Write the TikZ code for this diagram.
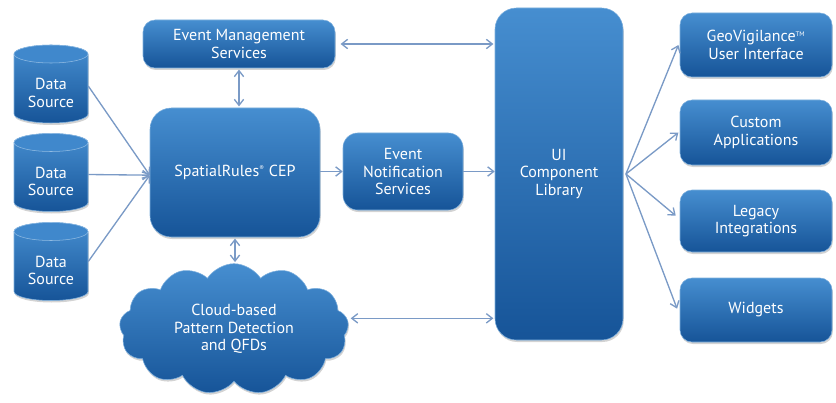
\documentclass[tikz,border=0pt]{standalone}
\usepackage{fontspec}
\setmainfont{PT Sans}
\usetikzlibrary{shapes.geometric,shapes.symbols,shadows,arrows.meta}
\definecolor{btop}{RGB}{70,142,208}
\definecolor{bbot}{RGB}{22,84,152}
\definecolor{arr}{RGB}{122,154,198}
\definecolor{etop}{RGB}{64,136,204}
\tikzset{
  box/.style={rectangle, rounded corners=9pt, top color=btop, bottom color=bbot,
    draw=btop!70!white, line width=0.4pt, text=white, align=center,
    font=\fontsize{12}{13}\selectfont, inner sep=2pt,
    drop shadow={shadow xshift=0.6pt, shadow yshift=-1.5pt, opacity=0.35}},
  cylbody/.style={top color=btop, bottom color=bbot, draw=btop!70!white, line width=0.4pt,
    drop shadow={shadow xshift=0.6pt, shadow yshift=-1.5pt, opacity=0.35}},
  cyltop/.style={fill=etop, draw=btop!60!white, line width=0.4pt},
  anchorbox/.style={rectangle, minimum width=55.5pt, minimum height=58.5pt, inner sep=0pt},
  lbl/.style={text=white, align=center, font=\fontsize{12}{13}\selectfont},
  conn/.style={draw=arr, line width=1pt, -{Straight Barb[length=4.5pt,width=7pt]}},
  dconn/.style={draw=arr, line width=1pt, {Straight Barb[length=4.5pt,width=7pt]}-{Straight Barb[length=4.5pt,width=7pt]}}
}
\begin{document}
\begin{tikzpicture}[x=0.75pt,y=-0.75pt]
\useasboundingbox (0,0) rectangle (836,403);
% data sources
\foreach \n/\y in {ds1/84, ds2/172.5, ds3/261.5}{
  \path[cylbody] (14,\y-30) -- (14,\y+30) arc[start angle=180, end angle=0, x radius=37, y radius=9]
     -- (88,\y-30) arc[start angle=0, end angle=-180, x radius=37, y radius=9] -- cycle;
  \path[cyltop] (51,\y-30) ellipse[x radius=37, y radius=9];
  \node[anchorbox] (\n) at (51,\y) {};
  \node[lbl] at (51,\y+9) {Data\\Source};
}
% central boxes
\node[box, minimum width=144pt, minimum height=36pt] (ems) at (239,44) {Event Management\\Services};
\node[box, rounded corners=16pt, minimum width=127.5pt, minimum height=96.75pt] (cep) at (235,172.5) {SpatialRules\textsuperscript{\tiny\textregistered} CEP};
\node[box, rounded corners=11pt, minimum width=90pt, minimum height=57.75pt] (ens) at (403,171.5) {Event\\Notification\\Services};
\node[box, rounded corners=16pt, minimum width=96pt, minimum height=249pt] (ui) at (559,174) {UI\\Component\\Library};
% cloud
\node[cloud, cloud puffs=13, cloud puff arc=115, aspect=1.9, minimum width=172pt, minimum height=98pt,
  top color=btop, bottom color=bbot, draw=btop!70!white, line width=0.4pt, text=white, align=center,
  font=\fontsize{12}{13}\selectfont,
  drop shadow={shadow xshift=0.6pt, shadow yshift=-1.5pt, opacity=0.35}] (cloud) at (234,329) {Cloud-based\\Pattern Detection\\and QFDs};
% right boxes
\node[box, minimum width=114pt, minimum height=48pt] (geo) at (756,45) {GeoVigilance\textsuperscript{\tiny TM}\\User Interface};
\node[box, minimum width=114pt, minimum height=48.75pt] (cust) at (756,132.5) {Custom\\Applications};
\node[box, minimum width=114pt, minimum height=46.5pt] (leg) at (756,221) {Legacy\\Integrations};
\node[box, minimum width=114pt, minimum height=48pt] (wid) at (756,310) {Widgets};
% connectors
\coordinate (cepin) at ([yshift=-2pt]cep.west);
\draw[conn] ([yshift=-1.5pt]ds1.east) -- (cepin);
\draw[conn] ([yshift=-1.5pt]ds2.east) -- (cepin);
\draw[conn] (ds3.east) -- (cepin);
\draw[dconn] ([yshift=-1pt]ems.south) -- ([yshift=1pt]ems.south |- cep.north);
\draw[dconn] ([yshift=-1pt]cep.south) -- ([yshift=1pt]cep.south |- cloud.north);
\draw[conn] (cep.east |- ens.west) -- (ens.west);
\draw[conn] (ens.east) -- (ui.west |- ens.east);
\draw[dconn] ([xshift=4pt]ems.east) -- ([xshift=-1pt]ui.west |- ems.east);
\coordinate (cl) at ([yshift=8pt]cloud.east);
\draw[dconn] ([xshift=2pt]cl) -- ([xshift=-1pt]ui.west |- cl);
\coordinate (uiout) at ([xshift=2pt]ui.east);
\draw[conn] (uiout) -- ([xshift=-1pt]geo.west);
\draw[conn] (uiout) -- ([xshift=-1pt]cust.west);
\draw[conn] (uiout) -- ([xshift=-3pt,yshift=4pt]leg.west);
\draw[conn] (uiout) -- ([xshift=-2pt,yshift=1pt]wid.west);
\end{tikzpicture}
\end{document}
